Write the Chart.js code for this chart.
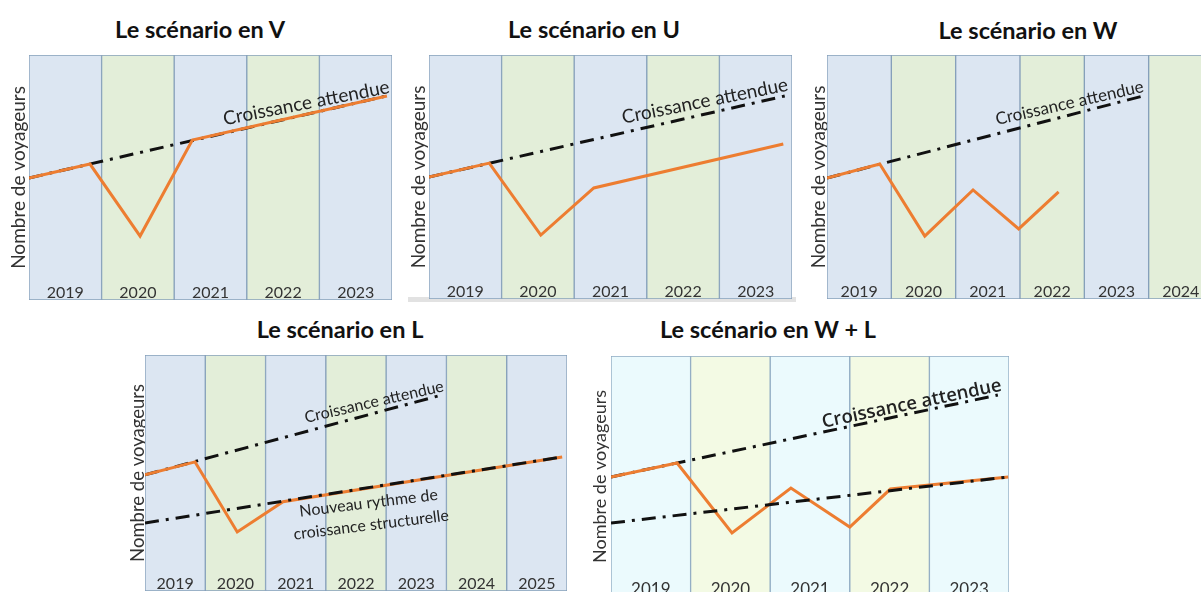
<!DOCTYPE html>
<html><head><meta charset="utf-8">
<script src="https://cdn.jsdelivr.net/npm/chart.js@4.4.1/dist/chart.umd.min.js"></script>
<style>
html,body{margin:0;padding:0;background:#fff;width:1201px;height:592px;overflow:hidden;position:relative;font-family:Lato,sans-serif}
.t{position:absolute;font-weight:700;font-size:23.5px;line-height:26px;color:#111;white-space:nowrap;transform:translateX(-50%)}
.c{position:absolute}
.c canvas{display:block}
</style></head><body>
<div class="t" style="left:200px;top:16px">Le scénario en V</div>
<div class="t" style="left:594px;top:16px">Le scénario en U</div>
<div class="t" style="left:1028px;top:17px">Le scénario en W</div>
<div class="t" style="left:340px;top:316px">Le scénario en L</div>
<div class="t" style="left:768px;top:316px">Le scénario en W + L</div>
<div style="position:absolute;left:408px;top:297px;width:388px;height:5px;background:#e2e2e2"></div>
<div class="c" id="w1"><canvas id="c1"></canvas></div>
<div class="c" id="w2"><canvas id="c2"></canvas></div>
<div class="c" id="w3"><canvas id="c3"></canvas></div>
<div class="c" id="w4"><canvas id="c4"></canvas></div>
<div class="c" id="w5"><canvas id="c5"></canvas></div>
<script>
// ---------- data ----------
const years5 = ['2019','2020','2021','2022','2023'];
const years6 = ['2019','2020','2021','2022','2023','2024'];
const years7 = ['2019','2020','2021','2022','2023','2024','2025'];
const yTitle = 'Nombre de voyageurs';
const expectedLabel = 'Croissance attendue';
const structuralLabel = ['Nouveau rythme de', 'croissance structurelle'];

// V scenario (x in years from start of 2019, y in relative traffic units 0-100)
const vTrafficX = [0, 0.84, 1.53, 2.25, 4.93];
const vTrafficY = [49.8, 55.5, 26.1, 65.3, 83.3];
const vExpectedX = [0, 4.93];
const vExpectedY = [49.8, 83.3];

// U scenario
const uTrafficX = [0, 0.83, 1.54, 2.27, 4.88];
const uTrafficY = [50.0, 55.7, 26.2, 45.5, 63.5];
const uExpectedX = [0, 4.90];
const uExpectedY = [50.0, 83.2];

// W scenario
const wTrafficX = [0, 0.82, 1.52, 2.27, 2.98, 3.60];
const wTrafficY = [49.6, 55.3, 25.8, 44.7, 28.7, 43.9];
const wExpectedX = [0, 4.91];
const wExpectedY = [49.6, 83.2];

// L scenario
const lTrafficX = [0, 0.83, 1.53, 2.29, 6.92];
const lTrafficY = [49.2, 54.7, 25.0, 37.8, 56.8];
const lExpectedX = [0, 4.93];
const lExpectedY = [49.2, 83.1];
const lStructX = [0, 6.92];
const lStructY = [28.8, 56.8];

// W + L scenario
const wlTrafficX = [0, 0.83, 1.52, 2.26, 3.00, 3.51, 4.99];
const wlTrafficY = [49.8, 55.6, 26.6, 45.2, 29.0, 44.8, 49.8];
const wlExpectedX = [0, 4.86];
const wlExpectedY = [49.8, 83.8];
const wlStructX = [0, 4.99];
const wlStructY = [30.7, 49.8];

const yMax = 100;

// ---------- helpers ----------
const pts = (xs, ys) => xs.map((x, i) => ({x, y: ys[i]}));

const textPlugin = {
  id: 'lineText',
  afterDatasetsDraw(chart, args, opts) {
    const {ctx, scales, chartArea} = chart;
    // year labels inside the bottom of each band, from the category scale
    const xb = scales.xb;
    ctx.save();
    ctx.font = opts.tickFont;
    ctx.fillStyle = '#333';
    ctx.textAlign = 'center';
    ctx.textBaseline = 'alphabetic';
    chart.data.labels.forEach((lab, i) => {
      ctx.fillText(lab, xb.getPixelForValue(i), chartArea.bottom - opts.tickGap);
    });
    ctx.restore();
    (opts.items || []).forEach(it => {
      const px = scales.x.getPixelForValue(it.x), py = scales.y.getPixelForValue(it.y);
      ctx.save();
      ctx.translate(px, py);
      ctx.rotate(-it.angle * Math.PI / 180);
      ctx.font = it.font;
      ctx.fillStyle = it.color || '#222';
      ctx.textAlign = 'center';
      ctx.textBaseline = 'middle';
      it.lines.forEach((l, i) => ctx.fillText(l, 0, (i - (it.lines.length - 1) / 2) * (it.lh || 20)));
      ctx.restore();
    });
  }
};

function makePanel(o) {
  const wrap = document.getElementById(o.wrap);
  const cv = document.getElementById(o.canvas);
  const W = (o.box[2] - o.box[0]) + o.yw + 1;
  const H = (o.box[3] - o.box[1]) + 2;
  wrap.style.left = (o.box[0] - o.yw) + 'px';
  wrap.style.top = (o.box[1] - 1) + 'px';
  cv.width = W; cv.height = H;
  cv.style.width = W + 'px'; cv.style.height = H + 'px';
  const n = o.labels.length;
  const bandColors = o.labels.map((_, i) => i % 2 === 0 ? o.colA : o.colB);
  const datasets = [
    {type: 'bar', xAxisID: 'xb', yAxisID: 'y', data: o.labels.map(() => yMax),
     backgroundColor: bandColors, borderColor: o.border, borderWidth: 1, borderSkipped: false,
     barPercentage: 1, categoryPercentage: 1, grouped: false, order: 10},
    {type: 'line', xAxisID: 'x', yAxisID: 'y', data: o.expected, borderColor: '#111', borderWidth: 3,
     borderDash: [14, 7, 3, 7], pointRadius: 0, tension: 0, order: 3, fill: false},
  ];
  if (o.struct) datasets.push({type: 'line', xAxisID: 'x', yAxisID: 'y', data: o.struct, borderColor: '#111',
     borderWidth: 3, borderDash: [14, 7, 3, 7], pointRadius: 0, tension: 0, order: 1, fill: false});
  datasets.push({type: 'line', xAxisID: 'x', yAxisID: 'y', data: o.traffic, borderColor: '#ed7d31',
     borderWidth: 3, pointRadius: 0, tension: 0, order: 2, fill: false});
  new Chart(cv, {
    type: 'line',
    data: {labels: o.labels, datasets},
    options: {
      responsive: false, animation: false, devicePixelRatio: 1,
      layout: {padding: {top: 1, right: 1, bottom: 1, left: 0}},
      plugins: {legend: {display: false}, tooltip: {enabled: false}, title: {display: false},
        lineText: {items: o.texts, tickFont: o.tickFont, tickGap: o.tickGap}},
      scales: {
        x: {type: 'linear', min: 0, max: n, display: false},
        xb: {type: 'category', position: 'bottom', offset: true, display: false},
        y: {type: 'linear', min: 0, max: yMax, position: 'left',
            grid: {display: false}, border: {display: false}, ticks: {display: false},
            title: {display: true, text: yTitle, color: '#333', padding: 0,
                    font: {family: 'Lato', size: o.ySize, lineHeight: 1.2}},
            afterFit: a => { a.width = o.yw; }}
      }
    },
    plugins: [textPlugin]
  });
}

const blueA = '#dce6f2', greenB = '#e3eed9', bord = '#86a0ba';

makePanel({wrap: 'w1', canvas: 'c1', box: [29, 55, 392, 300], yw: 22, labels: years5,
  colA: blueA, colB: greenB, border: bord, tickFont: '16px Lato', tickGap: 2, ySize: 19,
  traffic: pts(vTrafficX, vTrafficY), expected: pts(vExpectedX, vExpectedY),
  texts: [{x: 3.82, y: 80.4, angle: 11, font: '19px Lato', lines: [expectedLabel]}]});

makePanel({wrap: 'w2', canvas: 'c2', box: [429, 55, 792, 299], yw: 22, labels: years5,
  colA: blueA, colB: greenB, border: bord, tickFont: '16px Lato', tickGap: 2, ySize: 19,
  traffic: pts(uTrafficX, uTrafficY), expected: pts(uExpectedX, uExpectedY),
  texts: [{x: 3.80, y: 81.1, angle: 11.3, font: '19px Lato', lines: [expectedLabel]}]});

makePanel({wrap: 'w3', canvas: 'c3', box: [827, 55, 1213, 299], yw: 20, labels: years6,
  colA: blueA, colB: greenB, border: bord, tickFont: '16px Lato', tickGap: 2, ySize: 19,
  traffic: pts(wTrafficX, wTrafficY), expected: pts(wExpectedX, wExpectedY),
  texts: [{x: 3.77, y: 80.3, angle: 12.7, font: '17px Lato', lines: [expectedLabel]}]});

makePanel({wrap: 'w4', canvas: 'c4', box: [145, 355, 567, 591], yw: 18, labels: years7,
  colA: blueA, colB: greenB, border: bord, tickFont: '16px Lato', tickGap: 2, ySize: 18.5,
  traffic: pts(lTrafficX, lTrafficY), expected: pts(lExpectedX, lExpectedY), struct: pts(lStructX, lStructY),
  texts: [{x: 3.80, y: 80.1, angle: 13, font: '16px Lato', lines: [expectedLabel]},
          {x: 3.73, y: 32.6, angle: 7, font: '16px Lato', lh: 22, lines: structuralLabel}]});

makePanel({wrap: 'w5', canvas: 'c5', box: [611, 356, 1009, 597], yw: 22, labels: years5,
  colA: '#ebfafd', colB: '#f3fae4', border: '#8eaac2', tickFont: '17px Lato', tickGap: 2, ySize: 18,
  traffic: pts(wlTrafficX, wlTrafficY), expected: pts(wlExpectedX, wlExpectedY), struct: pts(wlStructX, wlStructY),
  texts: [{x: 3.78, y: 80.1, angle: 11.7, font: '600 18.5px "Open Sans"', lines: [expectedLabel]}]});
</script>
</body></html>
